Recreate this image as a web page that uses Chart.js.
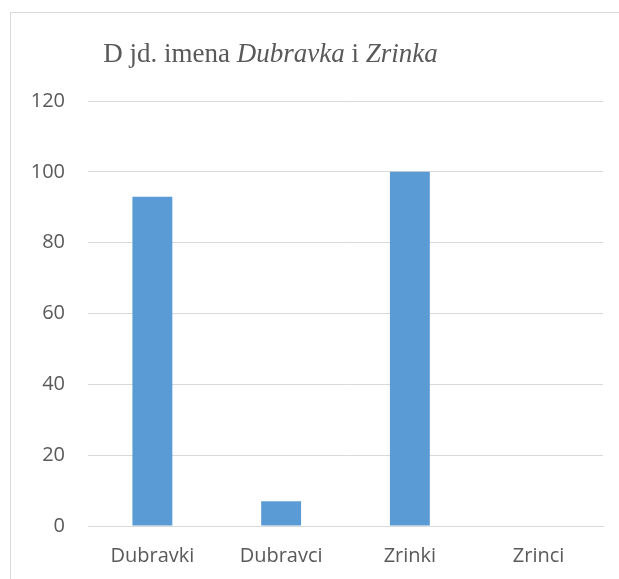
<!DOCTYPE html>
<html>
<head>
<meta charset="utf-8">
<script src="https://cdn.jsdelivr.net/npm/chart.js@4"></script>
<style>
  html, body { margin: 0; padding: 0; overflow: hidden; background: #fff; }
  #wrap {
    position: absolute;
    left: 10px;
    top: 12px;
    width: 640px;
    height: 600px;
    border: 1px solid #d9d9d9;
  }
</style>
</head>
<body>
<div id="wrap"><canvas id="chart" width="640" height="600"></canvas></div>
<script>
const categories = ["Dubravki", "Dubravci", "Zrinki", "Zrinci"];
const values = [93, 7, 100, 0];
const yTicks = [0, 20, 40, 60, 80, 100, 120];

// title has mixed italics, so it is drawn by hand
const titleParts = [
    ["D jd. imena ", false],
    ["Dubravka", true],
    [" i ", false],
    ["Zrinka", true]
];

const textGray = "#595959";
const gridGray = "#d9d9d9";

const titlePlugin = {
    id: "mixedTitle",
    afterDraw(chart) {
        const ctx = chart.ctx;
        ctx.save();
        ctx.fillStyle = textGray;
        ctx.textBaseline = "alphabetic";
        const fontFor = (it) => (it ? "italic " : "") + "27px 'Liberation Serif', 'DejaVu Serif', serif";
        let width = 0;
        titleParts.forEach(([t, it]) => {
            ctx.font = fontFor(it);
            width += ctx.measureText(t).width;
        });
        let x = 259.5 - width / 2;
        titleParts.forEach(([t, it]) => {
            ctx.font = fontFor(it);
            ctx.fillText(t, x, 49);
            x += ctx.measureText(t).width;
        });
        ctx.restore();
    }
};

new Chart(document.getElementById("chart"), {
    type: "bar",
    data: {
        labels: categories,
        datasets: [{
            data: values,
            backgroundColor: "#5b9bd5",
            categoryPercentage: 1,
            barPercentage: 0.31
        }]
    },
    options: {
        responsive: false,
        animation: false,
        layout: { padding: { top: 88, right: 48, left: 0, bottom: 0 } },
        plugins: {
            legend: { display: false },
            tooltip: { enabled: false },
            title: { display: false }
        },
        scales: {
            x: {
                grid: { display: false, drawTicks: false },
                border: { display: true, color: gridGray, width: 1 },
                ticks: {
                    color: textGray,
                    font: { family: "'Open Sans', sans-serif", size: 20 },
                    padding: 18
                },
                afterFit(scale) { scale.height = 87; }
            },
            y: {
                min: 0,
                max: 120,
                afterBuildTicks(scale) {
                    scale.ticks = yTicks.map(v => ({ value: v }));
                },
                grid: { color: gridGray, lineWidth: 1, drawTicks: false },
                border: { display: false },
                ticks: {
                    color: textGray,
                    font: { family: "'Open Sans', sans-serif", size: 20 },
                    padding: 23
                },
                afterFit(scale) { scale.width = 77; }
            }
        }
    },
    plugins: [titlePlugin]
});
</script>
</body>
</html>
